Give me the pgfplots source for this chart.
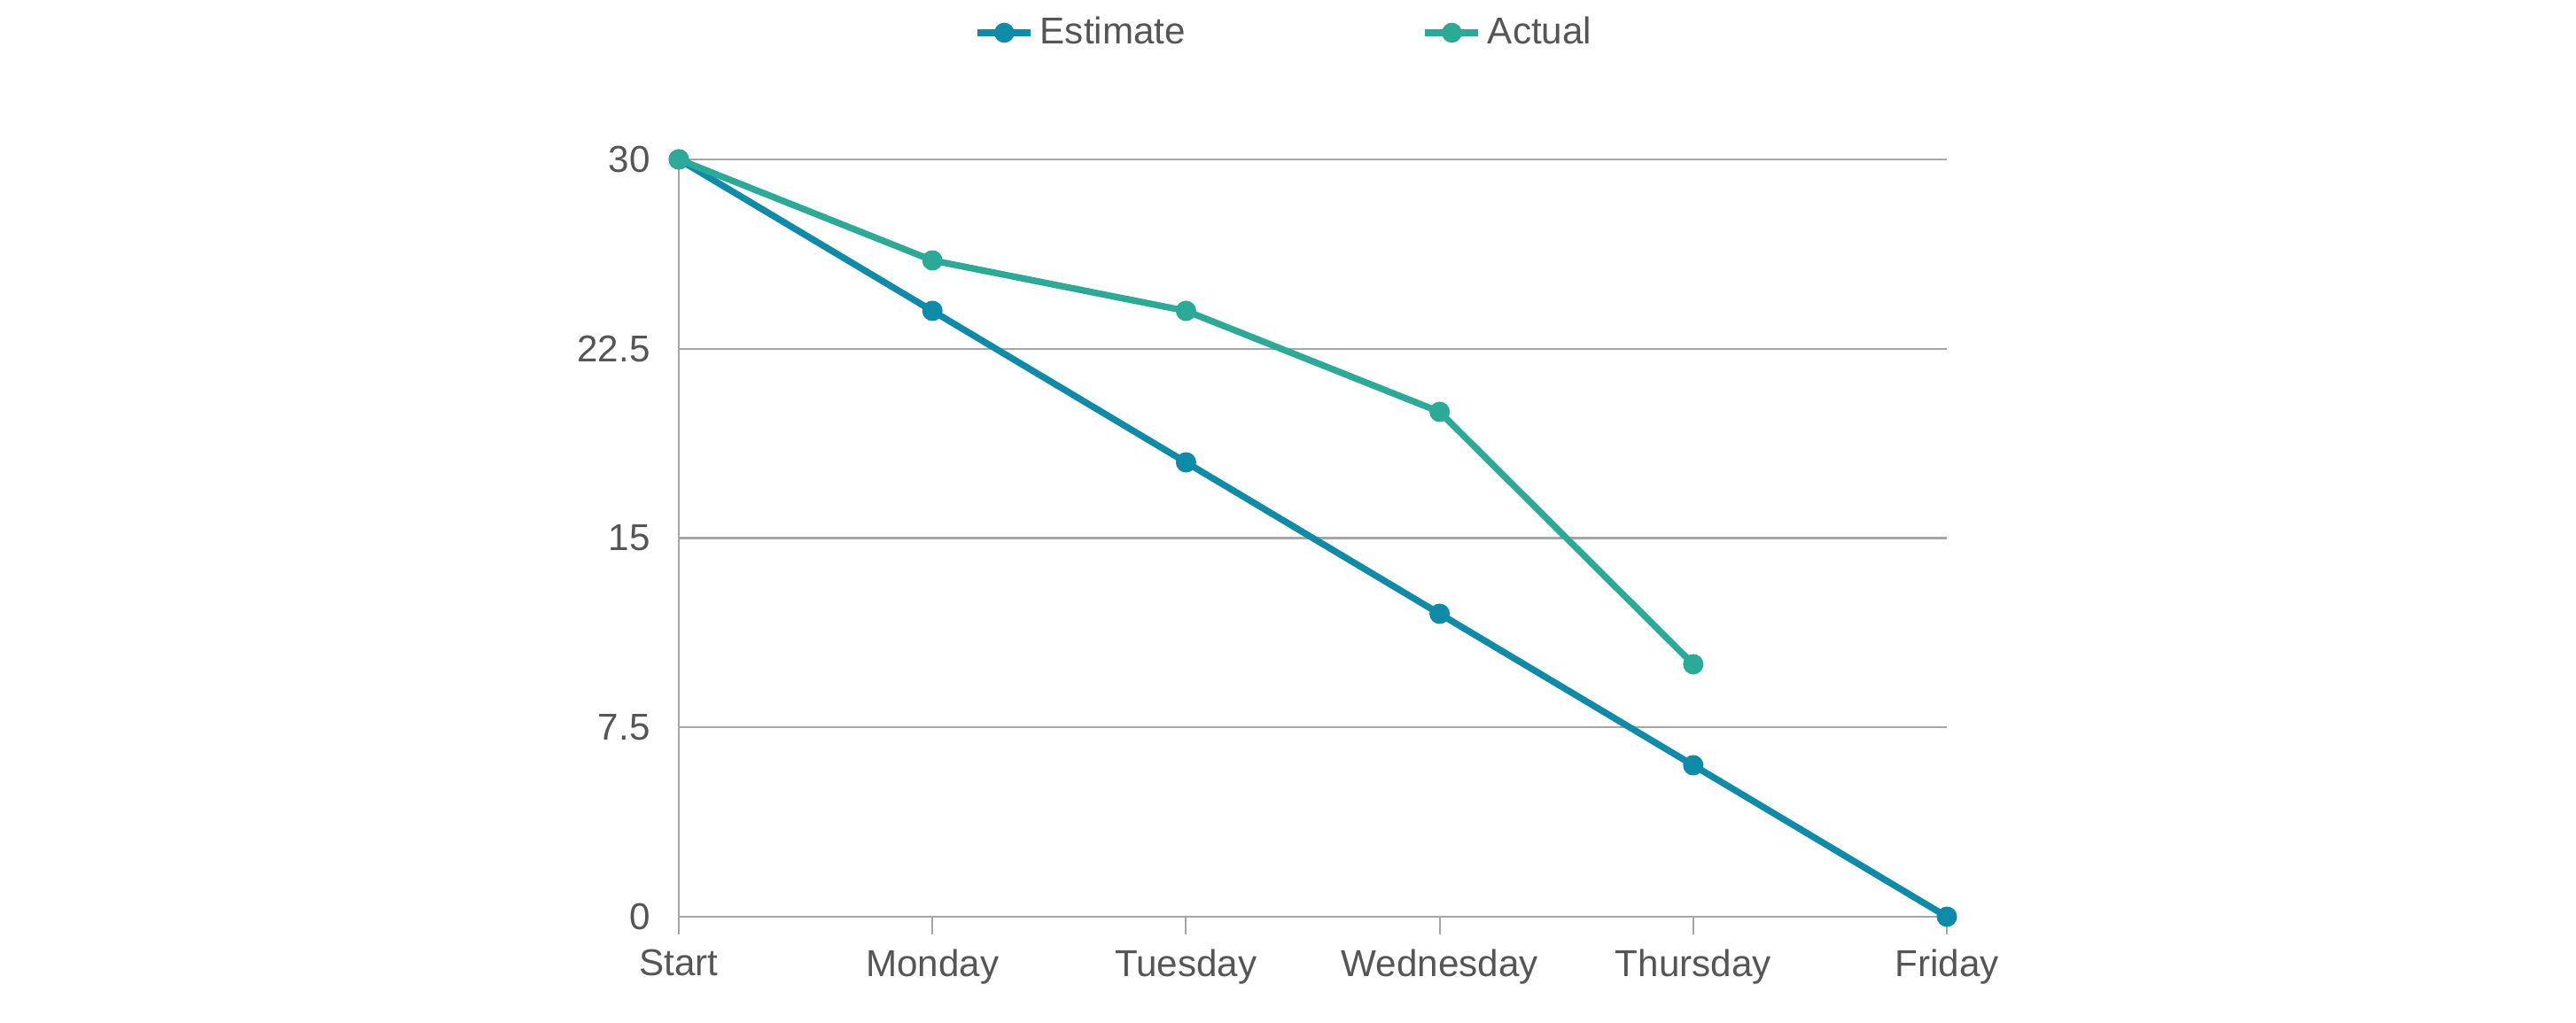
\documentclass[border=0pt]{standalone}
\usepackage{pgfplots}
\pgfplotsset{compat=1.18}
\usepackage{fontspec}
\setmainfont{Liberation Sans}
\definecolor{est}{HTML}{0E8BA8}
\definecolor{act}{HTML}{2CAA98}
\definecolor{txt}{HTML}{555555}
\begin{document}
\begin{tikzpicture}[x=1cm,y=1cm]
\path (0,0) rectangle (29.07,11.55);
\begin{axis}[at={(7.66cm,1.20cm)}, anchor=south west,
 scale only axis, width=14.31cm, height=8.55cm,
 xmin=0, xmax=5, ymin=0, ymax=30,
 xtick={0,...,5}, xticklabels={Start,Monday,Tuesday,Wednesday,Thursday,Friday},
 ytick={0,7.5,15,22.5,30}, yticklabels={0,7.5,15,22.5,30},
 ymajorgrids, grid style={gray!70, line width=0.6pt},
 axis x line=bottom, axis y line=left, axis line style={gray!70, line width=0.6pt, -},
 x axis line style={-}, y axis line style={-},
 tick style={gray!70, line width=0.6pt},
 xtick pos=bottom, xtick align=outside, major tick length=0.2cm,
 ytick style={draw=none},
 tick label style={font=\fontsize{12}{14}\selectfont, text=txt},
 xticklabel style={yshift=-0.05cm},
 yticklabel style={xshift=-0.1cm},
 clip=false,
 legend columns=2,
 legend style={at={(0.5,1)}, anchor=center, yshift=1.43cm, xshift=-0.3cm, draw=none, fill=none,
   font=\fontsize{12}{14}\selectfont, text=txt,
   /tikz/every even column/.append style={column sep=2.6cm}},
 legend image post style={line width=2pt},
]
\addplot[est, line width=2.1pt, mark=*, mark size=2.2pt] coordinates {(0,30)(1,24)(2,18)(3,12)(4,6)(5,0)};
\addlegendentry{Estimate}
\addplot[act, line width=2.1pt, mark=*, mark size=2.2pt] coordinates {(0,30)(1,26)(2,24)(3,20)(4,10)};
\addlegendentry{Actual}
\end{axis}
\end{tikzpicture}
\end{document}
